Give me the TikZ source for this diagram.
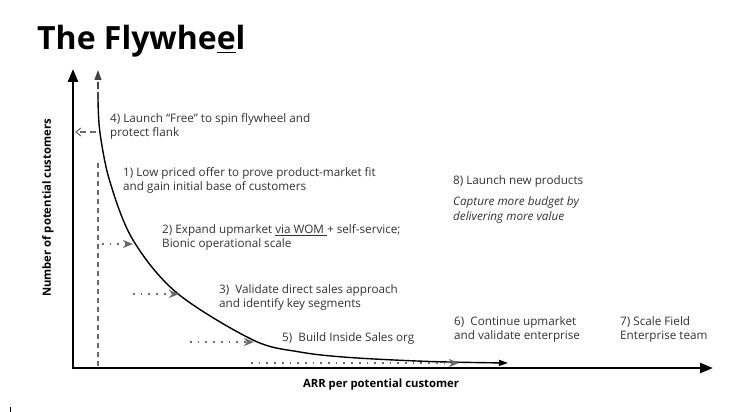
\documentclass[tikz,border=0pt]{standalone}
\usepackage{fontspec}
\setmainfont{Open Sans}
\usetikzlibrary{arrows.meta}
\definecolor{txt}{HTML}{333333}
\definecolor{arr}{HTML}{6A6A6A}
\definecolor{darkarr}{HTML}{444444}
\begin{document}
\begin{tikzpicture}[x=1pt,y=-1pt,
  lbl/.style={anchor=west, align=left, text=txt, inner sep=0pt,
    font=\fontsize{11.7}{14}\selectfont},
  axislbl/.style={inner sep=0pt, font=\fontsize{11.3}{12}\selectfont\bfseries},
  axis/.style={line width=2.6pt, line join=miter},
  axtip/.tip={Triangle[length=13pt,width=10pt]},
  dotarrow/.style={arr, line width=1.7pt, dash pattern=on 1.7pt off 6pt,
    -{Stealth[length=10pt,width=8pt,inset=3pt]}},
  curve/.style={line width=1.4pt, black}]
\useasboundingbox (0,0) rectangle (750,412);

% title
\node[anchor=base west, inner sep=0pt, font=\fontsize{32}{36}\selectfont\bfseries]
  (title) at (37,50) {The Flywhe\underline{e}l};

% axes
\coordinate (ytop) at (73,69);
\coordinate (orig) at (73,368);
\coordinate (xend) at (713,368);
\draw[axis, axtip-axtip] (ytop) -- (orig) -- (xend);

% axis labels
\node[axislbl, rotate=90] (ylab) at (48,208) {Number of potential customers};
\node[axislbl] (xlab) at (381,385) {ARR per potential customer};

% secondary up arrow and dashed line
\coordinate (c0) at (98,99);
\coordinate (c0top) at (98,70);
\draw[darkarr, line width=1.4pt, dash pattern=on 7pt off 3pt,
  -{Triangle[length=10pt,width=7pt]}] (c0) -- (c0top);
\coordinate (dtop) at (98,163);
\coordinate (dbot) at (98,367);
\draw[arr, line width=1.1pt, dash pattern=on 5pt off 4pt] (dtop) -- (dbot);

% dashed arrow for 4)
\coordinate (f4a) at (96,132);
\coordinate (f4b) at (75,132);
\draw[arr, line width=1.1pt, dash pattern=on 6pt off 4pt,
  -{Straight Barb[length=5pt,width=8pt]}] (f4a) -- (f4b);

% the curve
\draw[curve, -{Triangle[length=9pt,width=6pt]}] plot[smooth, tension=0.55] coordinates
  {(98,99) (100,133) (110,182) (133,240) (177,293) (253,340) (300,352)
   (350,357.5) (430,361.5) (508,363)};

% dotted arrows
\coordinate (a2s) at (102,244); \coordinate (a2e) at (133,244);
\coordinate (a3s) at (133,294); \coordinate (a3e) at (179,294);
\coordinate (a5s) at (190,342); \coordinate (a5e) at (254,342);
\coordinate (a6s) at (251,363); \coordinate (a6e) at (459,363);
\draw[dotarrow] (a2s) -- (a2e);
\draw[dotarrow] (a3s) -- (a3e);
\draw[dotarrow] (a5s) -- (a5e);
\draw[dotarrow] (a6s) -- (a6e);

% labels
\node[lbl] (t4) at (110,126.5) {4) Launch “Free” to spin flywheel and\\protect flank};
\node[lbl] (t1) at (123,180.5) {1) Low priced offer to prove product-market fit\\and gain initial base of customers};
\node[lbl] (t2) at (162,237.5) {2) Expand upmarket \underline{via WOM\ }+ self-service;\\Bionic operational scale};
\node[lbl] (t3) at (219,297.5) {3)\ \ Validate direct sales approach\\and identify key segments};
\node[lbl] (t5) at (282,338.5) {5)\ \ Build Inside Sales org};
\node[lbl] (t6) at (454,329.5) {6)\ \ Continue upmarket\\and validate enterprise};
\node[lbl] (t7) at (620,329.5) {7) Scale Field\\Enterprise team};
\node[lbl] (t8) at (453,181.5) {8) Launch new products};
\node[lbl, font=\fontsize{11.7}{15}\selectfont\itshape] (t8b) at (453,210) {Capture more budget by\\delivering more value};

% stray mark
\coordinate (m1) at (10,407); \coordinate (m2) at (10,412);
\draw[line width=1pt] (m1) -- (m2);
\end{tikzpicture}
\end{document}
